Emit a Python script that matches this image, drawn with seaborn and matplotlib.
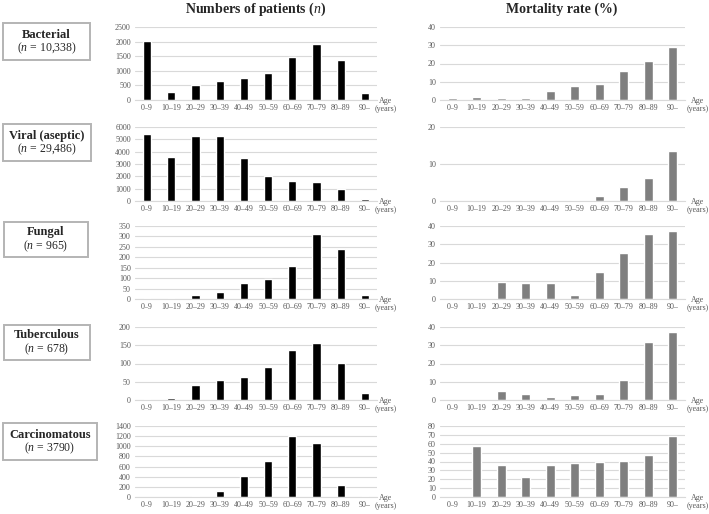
import numpy as np
import seaborn as sns
import matplotlib.pyplot as plt
from matplotlib.patches import Rectangle

# data
age_groups = ['0–9', '10–19', '20–29', '30–39', '40–49', '50–59', '60–69', '70–79', '80–89', '90–']

bacterial_n = [2030, 290, 530, 650, 760, 930, 1460, 1920, 1380, 230]
bacterial_mort = [1.0, 1.5, 1.2, 1.3, 5.0, 7.5, 8.5, 16.0, 21.5, 29.0]

viral_n = [5400, 3600, 5300, 5250, 3500, 2050, 1600, 1550, 1000, 150]
viral_mort = [0, 0.3, 0.3, 0.3, 0.3, 0.4, 1.3, 3.8, 6.3, 13.5]

fungal_n = [3, 3, 18, 32, 77, 95, 157, 310, 240, 17]
fungal_mort = [0, 0, 9.5, 9.0, 9.0, 2.0, 15.0, 25.0, 35.5, 37.5]

tb_n = [3, 6, 40, 55, 62, 90, 137, 155, 102, 20]
tb_mort = [0, 0, 5.0, 3.5, 1.5, 3.0, 3.5, 11.0, 32.0, 37.0]

carc_n = [0, 0, 15, 110, 415, 705, 1210, 1065, 230, 10]
carc_mort = [0, 57, 36, 22, 35.5, 38, 39, 41, 47, 69]

group_names = ['Bacterial', 'Viral (aseptic)', 'Fungal', 'Tuberculous', 'Carcinomatous']
group_totals = ['10,338', '29,486', '965', '678', '3790']
counts = [bacterial_n, viral_n, fungal_n, tb_n, carc_n]
mortality = [bacterial_mort, viral_mort, fungal_mort, tb_mort, carc_mort]

count_ylim = [(2500, 500), (6000, 1000), (350, 50), (200, 50), (1400, 200)]
mort_ylim = [(40, 10), (20, 10), (40, 10), (40, 10), (80, 10)]

sns.set_style('white')
plt.rcParams['font.family'] = ['Liberation Serif', 'DejaVu Serif']
plt.rcParams['mathtext.fontset'] = 'custom'
plt.rcParams['mathtext.rm'] = 'Liberation Serif'
plt.rcParams['mathtext.it'] = 'Liberation Serif:italic'

W, H = 709, 514
fig = plt.figure(figsize=(W / 100, H / 100), dpi=100)

def px(x0, y0, x1, y1):
    # pixel box (top-based) -> figure fraction rect
    return [x0 / W, 1 - y1 / H, (x1 - x0) / W, (y1 - y0) / H]

rows = [(27, 100), (127, 201), (226, 299), (327, 400), (426, 497)]
boxes = [(3, 23, 90, 60), (3, 124, 91, 161), (4, 222, 88, 257), (4, 325, 90, 360), (3, 423, 97, 460)]
tick_col = '#595959'
grid_col = '#d9d9d9'

def style_ax(ax, ymax, step):
    ax.set_ylim(0, ymax)
    ax.set_xlim(-0.5, 9.5)
    ax.set_yticks(np.arange(0, ymax + step / 2, step))
    ax.yaxis.grid(True, color=grid_col, lw=0.8)
    ax.set_axisbelow(True)
    for s in ['top', 'left', 'right']:
        ax.spines[s].set_visible(False)
    ax.spines['bottom'].set_color(grid_col)
    ax.spines['bottom'].set_linewidth(0.8)
    ax.tick_params(length=0, labelsize=5.8, colors=tick_col, pad=3)
    ax.set_xlabel('')
    ax.set_ylabel('')

for i, (top, bot) in enumerate(rows):
    axl = fig.add_axes(px(135, top, 377, bot))
    sns.barplot(x=age_groups, y=counts[i], ax=axl, color='black', saturation=1, width=0.34)
    style_ax(axl, *count_ylim[i])
    fig.text(386 / W, 1 - (bot + 5) / H, 'Age\n(years)', ha='center', va='center',
             fontsize=5.8, color=tick_col, linespacing=1.1)

    axr = fig.add_axes(px(440, top, 685, bot))
    sns.barplot(x=age_groups, y=mortality[i], ax=axr, color='#7f7f7f', saturation=1, width=0.38)
    style_ax(axr, *mort_ylim[i])
    fig.text(698 / W, 1 - (bot + 5) / H, 'Age\n(years)', ha='center', va='center',
             fontsize=5.8, color=tick_col, linespacing=1.1)

    # group label boxes
    x0, y0, x1, y1 = boxes[i]
    fig.patches.append(Rectangle((x0 / W, 1 - y1 / H), (x1 - x0) / W, (y1 - y0) / H,
                                 transform=fig.transFigure, fill=False,
                                 edgecolor='#b4b4b4', lw=1.4))
    cx = (x0 + x1) / 2 / W
    cy = (y0 + y1) / 2
    fig.text(cx, 1 - (cy - 7) / H, group_names[i], ha='center', va='center',
             fontsize=9, fontweight='bold')
    fig.text(cx, 1 - (cy + 7) / H, '($n$ = ' + group_totals[i] + ')', ha='center', va='center',
             fontsize=8.5)

fig.text(256 / W, 1 - 9 / H, r'Numbers of patients ($n$)', ha='center', va='center',
         fontsize=10, fontweight='bold')
fig.text(562 / W, 1 - 9 / H, 'Mortality rate (%)', ha='center', va='center',
         fontsize=10, fontweight='bold')

plt.savefig('out.png', dpi=100)
